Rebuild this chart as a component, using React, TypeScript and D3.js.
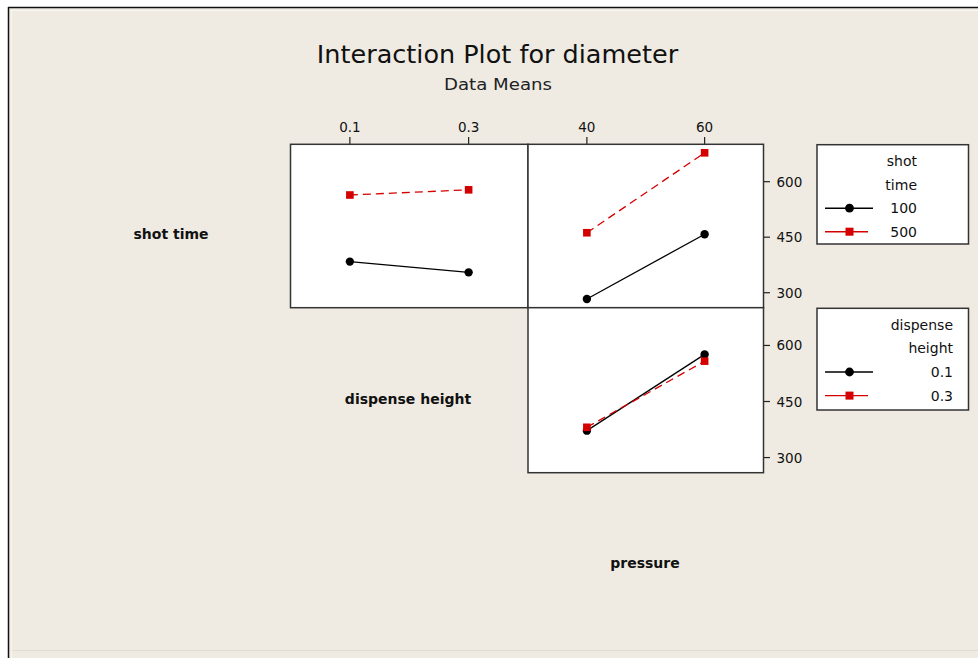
import React from "react";
import * as d3 from "d3";

// ---- data ----
const shotTimeLevels = ["100", "500"];
const dispenseLevels = ["0.1", "0.3"];
const dispenseValues = [0.1, 0.3];
const pressureValues = [40, 60];
const dispenseTicks = ["0.1", "0.3"];
const pressureTicks = ["40", "60"];
const yTicks = [300, 450, 600];

// shot time (rows) x dispense height (cols)
const shot100ByDispense = [384, 355];
const shot500ByDispense = [564, 578];
// shot time x pressure
const shot100ByPressure = [283, 458];
const shot500ByPressure = [462, 678];
// dispense height x pressure
const disp01ByPressure = [372, 576];
const disp03ByPressure = [381, 558];

const rowLabels = ["shot time", "dispense height", "pressure"];

const W = 978;
const H = 658;
const BG = "#EFEBE2";
const RED = "#D40000";
const FONT = "'DejaVu Sans', Verdana, sans-serif";
const BOLD = "'DejaVu Sans', sans-serif";

const colEdges = [290.5, 528, 763.5];
const rowEdges = [144.3, 307.7, 472.7];

const xDisp = d3.scaleLinear().domain([0, 0.4]).range([colEdges[0], colEdges[1]]);
const xPress = d3.scaleLinear().domain([30, 70]).range([colEdges[1], colEdges[2]]);
const yRow1 = d3.scaleLinear().domain([259.5, 701]).range([rowEdges[1], rowEdges[0]]);
const yRow2 = d3.scaleLinear().domain([259.5, 701]).range([rowEdges[2], rowEdges[1]]);

type S = { xs: number[]; ys: number[]; x: d3.ScaleLinear<number, number>; y: d3.ScaleLinear<number, number>; red: boolean };

function Series({ xs, ys, x, y, red }: S) {
  const line = d3
    .line<number>()
    .x((_, i) => x(xs[i]))
    .y((v) => y(v));
  return (
    <g>
      <path
        d={line(ys) || ""}
        fill="none"
        stroke={red ? RED : "#000"}
        strokeWidth={1.3}
        strokeDasharray={red ? "8,5" : undefined}
      />
      {ys.map((v, i) =>
        red ? (
          <rect key={i} x={x(xs[i]) - 3.8} y={y(v) - 3.8} width={7.6} height={7.6} fill={RED} />
        ) : (
          <circle key={i} cx={x(xs[i])} cy={y(v)} r={4.2} fill="#000" />
        )
      )}
    </g>
  );
}

function Legend({ x0, y0, x1, y1, title, levels, textRight, step }: { x0: number; y0: number; x1: number; y1: number; title: string[]; levels: string[]; textRight: number; step: number }) {
  return (
    <g>
      <rect x={x0} y={y0} width={x1 - x0} height={y1 - y0} fill="#fff" stroke="#333" strokeWidth={1.5} />
      {title.map((t, i) => (
        <text key={t} x={textRight} y={y0 + 21.5 + i * step} textAnchor="end" fontFamily={FONT} fontSize={14} fill="#111">
          {t}
        </text>
      ))}
      {levels.map((l, i) => {
        const cy = y0 + 21.5 + (i + 2) * step - 5;
        const red = i === 1;
        return (
          <g key={l}>
            <line x1={x0 + 8} x2={red ? x0 + 51 : x0 + 56} y1={cy} y2={cy} stroke={red ? RED : "#000"} strokeWidth={1.4} />
            {red ? (
              <rect x={x0 + 32.5 - 4} y={cy - 4} width={8} height={8} fill={RED} />
            ) : (
              <circle cx={x0 + 32.5} cy={cy} r={4.4} fill="#000" />
            )}
            <text x={textRight} y={cy + 5} textAnchor="end" fontFamily={FONT} fontSize={14} fill="#111">
              {l}
            </text>
          </g>
        );
      })}
    </g>
  );
}

export default function App() {
  const panelStroke = "#333";
  return (
    <svg width={W} height={H} style={{ position: "absolute", left: 0, top: 0 }} xmlns="http://www.w3.org/2000/svg">
      <rect x={0} y={0} width={W} height={H} fill="#fff" />
      <rect x={8} y={7} width={W - 8} height={H - 7} fill={BG} />
      <line x1={8} x2={W} y1={7.5} y2={7.5} stroke="#111" strokeWidth={1.5} />
      <line x1={8.5} x2={8.5} y1={7} y2={H} stroke="#111" strokeWidth={1.5} />
      <line x1={11.5} x2={W} y1={10.5} y2={10.5} stroke="#f8f6f1" strokeWidth={1} />
      <line x1={11.5} x2={11.5} y1={10.5} y2={H} stroke="#f8f6f1" strokeWidth={1} />
      <line x1={11.5} x2={W} y1={650.5} y2={650.5} stroke="#e2ddd2" strokeWidth={1} />

      {/* titles */}
      <text x={497.5} y={63} textAnchor="middle" fontFamily={FONT} fontSize={25.5} fill="#111">
        Interaction Plot for diameter
      </text>
      <text x={498} y={90} textAnchor="middle" fontFamily={FONT} fontSize={16} fill="#222" textLength={108} lengthAdjust="spacingAndGlyphs">
        Data Means
      </text>

      {/* top axis ticks */}
      {dispenseValues.map((v, i) => (
        <g key={"dt" + i}>
          <line x1={xDisp(v)} x2={xDisp(v)} y1={137} y2={rowEdges[0]} stroke="#222" strokeWidth={1.2} />
          <text x={xDisp(v)} y={131.5} textAnchor="middle" fontFamily={FONT} fontSize={13.5} fill="#111">
            {dispenseTicks[i]}
          </text>
        </g>
      ))}
      {pressureValues.map((v, i) => (
        <g key={"pt" + i}>
          <line x1={xPress(v)} x2={xPress(v)} y1={137} y2={rowEdges[0]} stroke="#222" strokeWidth={1.2} />
          <text x={xPress(v)} y={131.5} textAnchor="middle" fontFamily={FONT} fontSize={13.5} fill="#111">
            {pressureTicks[i]}
          </text>
        </g>
      ))}

      {/* panels */}
      <rect x={colEdges[0]} y={rowEdges[0]} width={colEdges[1] - colEdges[0]} height={rowEdges[1] - rowEdges[0]} fill="#fff" stroke={panelStroke} strokeWidth={1.5} />
      <rect x={colEdges[1]} y={rowEdges[0]} width={colEdges[2] - colEdges[1]} height={rowEdges[1] - rowEdges[0]} fill="#fff" stroke={panelStroke} strokeWidth={1.5} />
      <rect x={colEdges[1]} y={rowEdges[1]} width={colEdges[2] - colEdges[1]} height={rowEdges[2] - rowEdges[1]} fill="#fff" stroke={panelStroke} strokeWidth={1.5} />

      {/* right axis ticks */}
      {[yRow1, yRow2].map((ys, r) =>
        yTicks.map((t) => (
          <g key={r + "-" + t}>
            <line x1={764} x2={770} y1={ys(t)} y2={ys(t)} stroke="#222" strokeWidth={1.2} />
            <text x={776.5} y={ys(t) + 5} fontFamily={FONT} fontSize={13.5} fill="#111">
              {t}
            </text>
          </g>
        ))
      )}

      {/* series */}
      <Series xs={dispenseValues} ys={shot100ByDispense} x={xDisp} y={yRow1} red={false} />
      <Series xs={dispenseValues} ys={shot500ByDispense} x={xDisp} y={yRow1} red={true} />
      <Series xs={pressureValues} ys={shot100ByPressure} x={xPress} y={yRow1} red={false} />
      <Series xs={pressureValues} ys={shot500ByPressure} x={xPress} y={yRow1} red={true} />
      <Series xs={pressureValues} ys={disp01ByPressure} x={xPress} y={yRow2} red={false} />
      <Series xs={pressureValues} ys={disp03ByPressure} x={xPress} y={yRow2} red={true} />

      {/* row labels */}
      <text x={171} y={239} textAnchor="middle" fontFamily={BOLD} fontWeight="bold" fontSize={14} fill="#111">
        {rowLabels[0]}
      </text>
      <text x={408} y={404} textAnchor="middle" fontFamily={BOLD} fontWeight="bold" fontSize={14} fill="#111">
        {rowLabels[1]}
      </text>
      <text x={645} y={568} textAnchor="middle" fontFamily={BOLD} fontWeight="bold" fontSize={14} fill="#111">
        {rowLabels[2]}
      </text>

      {/* legends */}
      <Legend x0={817} y0={144.7} x1={968.5} y1={244} title={["shot", "time"]} levels={shotTimeLevels} textRight={917} step={23.5} />
      <Legend x0={817} y0={308.3} x1={968.5} y1={410} title={["dispense", "height"]} levels={dispenseLevels} textRight={953} step={23.6} />
    </svg>
  );
}
